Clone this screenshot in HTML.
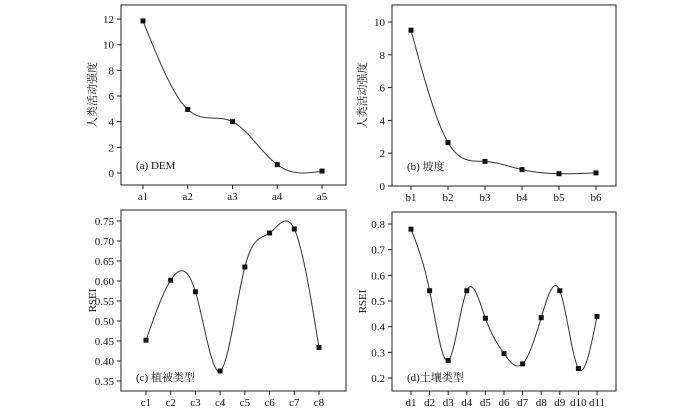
<!DOCTYPE html>
<html><head><meta charset="utf-8"><style>
html,body{margin:0;padding:0;background:#fff;}
svg text{font-family:"Liberation Serif","Noto Serif CJK SC",serif;fill:#111;}
</style></head><body>
<svg id="chart" width="700" height="408" viewBox="0 0 700 408" xmlns="http://www.w3.org/2000/svg"></svg>
<script>
const catsA = ["a1","a2","a3","a4","a5"];
const valsA = [11.85, 4.95, 4.0, 0.65, 0.15];
const ticksA = [0,2,4,6,8,10,12];
const catsB = ["b1","b2","b3","b4","b5","b6"];
const valsB = [9.5, 2.65, 1.5, 1.0, 0.75, 0.8];
const ticksB = [0,2,4,6,8,10];
const catsC = ["c1","c2","c3","c4","c5","c6","c7","c8"];
const valsC = [0.452, 0.602, 0.573, 0.375, 0.635, 0.72, 0.73, 0.434];
const ticksC = [0.35,0.40,0.45,0.50,0.55,0.60,0.65,0.70,0.75];
const catsD = ["d1","d2","d3","d4","d5","d6","d7","d8","d9","d10","d11"];
const valsD = [0.78, 0.54, 0.268, 0.54, 0.433, 0.295, 0.255, 0.435, 0.54, 0.237, 0.44];
const ticksD = [0.2,0.3,0.4,0.5,0.6,0.7,0.8];

const NS="http://www.w3.org/2000/svg";
const svg=document.getElementById('chart');
function mk(tag,attrs,parent){const e=document.createElementNS(NS,tag);for(const k in attrs)e.setAttribute(k,attrs[k]);(parent||svg).appendChild(e);return e;}

function spline(xs,ys){
  const n=xs.length,h=[],al=[],l=[1],mu=[0],z=[0],c=new Array(n).fill(0),b=[],d=[];
  for(let i=0;i<n-1;i++)h.push(xs[i+1]-xs[i]);
  for(let i=1;i<n-1;i++)al[i]=3/h[i]*(ys[i+1]-ys[i])-3/h[i-1]*(ys[i]-ys[i-1]);
  for(let i=1;i<n-1;i++){l[i]=2*(xs[i+1]-xs[i-1])-h[i-1]*mu[i-1];mu[i]=h[i]/l[i];z[i]=(al[i]-h[i-1]*z[i-1])/l[i];}
  l[n-1]=1;z[n-1]=0;c[n-1]=0;
  for(let j=n-2;j>=0;j--){c[j]=z[j]-mu[j]*c[j+1];b[j]=(ys[j+1]-ys[j])/h[j]-h[j]*(c[j+1]+2*c[j])/3;d[j]=(c[j+1]-c[j])/(3*h[j]);}
  const pts=[];
  for(let i=0;i<n-1;i++)for(let s=0;s<30;s++){const t=h[i]*s/30;pts.push([xs[i]+t,ys[i]+b[i]*t+c[i]*t*t+d[i]*t*t*t]);}
  pts.push([xs[n-1],ys[n-1]]);return pts;
}

function panel(p){
  const g=mk('g',{});
  
  
  const y=v=>p.y0px+(v-p.v0)*(p.y1px-p.y0px)/(p.v1-p.v0);
  const x=i=>p.x0px+i*(p.x1px-p.x0px)/(p.cats.length-1);
  const fr=mk('rect',{x:p.L,y:p.T,width:p.R-p.L,height:p.B-p.T,fill:'none',stroke:'#222','stroke-width':1},g);
  
  p.ticks.forEach(v=>{
    const yy=y(v);
    mk('line',{x1:p.L-4,x2:p.L,y1:yy,y2:yy,stroke:'#222'},g);
    const t=mk('text',{x:p.L-7,y:yy+4,'text-anchor':'end','font-size':11},g);
    t.textContent=p.fmt(v);
    
  });
  p.cats.forEach((c,i)=>{
    const xx=x(i);
    mk('line',{x1:xx,x2:xx,y1:p.B,y2:p.B+4,stroke:'#222'},g);
    const t=mk('text',{x:xx,y:p.B+15,'text-anchor':'middle','font-size':11},g);
    t.textContent=c;
    
  });
  const yl=mk('text',{transform:`translate(${p.ylx},${(p.T+p.B)/2}) rotate(-90)`,'text-anchor':'middle','font-size':11},g);
  yl.textContent=p.ylabel;
  
  const pts=spline(p.vals.map((v,i)=>i),p.vals);
  const path=mk('path',{d:pts.map((q,k)=>(k?'L':'M')+(p.x0px+q[0]*(p.x1px-p.x0px)/(p.cats.length-1)).toFixed(2)+','+y(q[1]).toFixed(2)).join(''),fill:'none',stroke:'#333','stroke-width':1},g);
  
  p.vals.forEach((v,i)=>{
    const r=mk('rect',{x:x(i)-2.5,y:y(v)-2.5,width:5,height:5,fill:'#111'},g);
    
  });
  const lab=mk('text',{x:p.L+15,y:p.labY,'font-size':11},g);
  lab.textContent=p.label;
  
}
const f0=v=>String(v), f1=v=>v.toFixed(1), f2=v=>v.toFixed(2);
panel({name:'panel-a-dem',cats:catsA,vals:valsA,ticks:ticksA,fmt:f0,L:121,R:346,T:5,B:185,v0:0,v1:12,y0px:173,y1px:19,x0px:143,x1px:322,ylx:96,ylabel:'人类活动强度',label:'(a) DEM',labY:169});
panel({name:'panel-b-slope',cats:catsB,vals:valsB,ticks:ticksB,fmt:f0,L:392,R:616,T:5,B:186,v0:0,v1:10,y0px:186,y1px:22,x0px:411,x1px:596,ylx:366,ylabel:'人类活动强度',label:'(b) 坡度',labY:170});
panel({name:'panel-c-vegetation',cats:catsC,vals:valsC,ticks:ticksC,fmt:f2,L:121,R:346,T:210,B:391,v0:0.35,v1:0.75,y0px:381,y1px:221,x0px:146,x1px:319,ylx:96,ylabel:'RSEI',label:'(c) 植被类型',labY:381});
panel({name:'panel-d-soil',cats:catsD,vals:valsD,ticks:ticksD,fmt:f1,L:392,R:616,T:212,B:391,v0:0.2,v1:0.8,y0px:378,y1px:224,x0px:411,x1px:597,ylx:366,ylabel:'RSEI',label:'(d)土壤类型',labY:381});
</script>
</body></html>
